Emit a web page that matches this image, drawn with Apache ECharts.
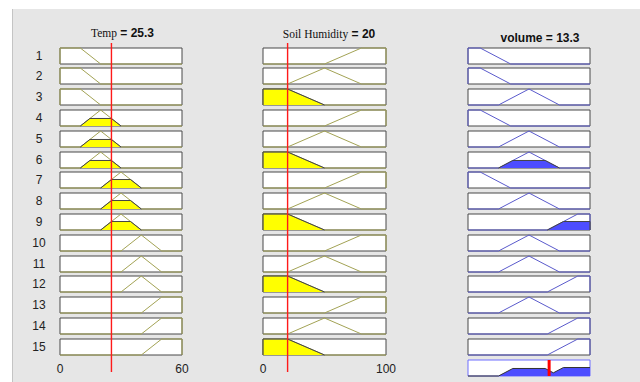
<!DOCTYPE html>
<html>
<head>
<meta charset="utf-8">
<script src="https://cdn.jsdelivr.net/npm/echarts@6/dist/echarts.min.js"></script>
<style>
html,body{margin:0;padding:0;background:#fff;width:640px;height:382px;overflow:hidden;}
#bg{position:absolute;left:12px;top:9px;width:628px;height:373px;background:#e6e6e6;border-left:1px solid #c4c4c4;}
#chart{position:absolute;left:0;top:0;width:640px;height:382px;}
</style>
</head>
<body>
<div id="bg"></div>
<div id="chart"></div>
<script>
// ---- data ----
const ruleNumbers = [1,2,3,4,5,6,7,8,9,10,11,12,13,14,15];
const tempRange = [0, 60];
const soilRange = [0, 100];
const volumeRange = [0, 20];
const tempInput = 25.3;
const soilInput = 20;
const volumeOutput = 13.3;
// membership functions as trapezoids [a,b,c,d]
const tempMFs = [[0,0,10,20],[10,20,20,30],[20,30,30,40],[30,40,40,50],[40,50,60,60]];
const soilMFs = [[0,0,20,50],[20,50,50,80],[50,80,100,100]];
const volumeMFs = [[0,0,2,7],[5,10,10,15],[13,18,20,20]];
// which MF each rule uses
const ruleTemp   = [0,0,0,1,1,1,2,2,2,3,3,3,4,4,4];
const ruleSoil   = [2,1,0,2,1,0,2,1,0,2,1,0,2,1,0];
const ruleVolume = [0,0,1,0,1,1,0,1,2,1,1,2,1,2,2];
// firing levels shown as filled areas
const tempFiring   = [0,0,0,0.47,0.47,0.47,0.53,0.53,0.53,0,0,0,0,0,0];
const soilFiring   = [0,0,1,0,0,1,0,0,1,0,0,1,0,0,1];
const volumeFiring = [0,0,0,0,0,0.47,0,0,0.53,0,0,0,0,0,0];
// aggregated output curve
const aggregateCurve = [[0,0],[5,0],[7.35,0.47],[12.65,0.47],[14,0.2],[15.65,0.53],[20,0.53]];
const titles = [
  {name:'Temp', value:'25.3'},
  {name:'Soil Humidity', value:'20'},
  {name:'volume', value:'13.3'}
];

// ---- layout / styles ----
const cols = [
  {left:60, width:122, range:tempRange, mfs:tempMFs, rule:ruleTemp, firing:tempFiring, line:'#a3a355', fill:'#ffff00'},
  {left:263, width:123, range:soilRange, mfs:soilMFs, rule:ruleSoil, firing:soilFiring, line:'#a3a355', fill:'#ffff00'},
  {left:468, width:122, range:volumeRange, mfs:volumeMFs, rule:ruleVolume, firing:volumeFiring, line:'#5a5acc', fill:'#4d4dff'}
];
const rowTop = i => Math.round(47.5 + i * 20.8);
const rowH = 16;

function mfPoints(p, r){
  return [[r[0],0],[p[0],0],[p[1],1],[p[2],1],[p[3],0],[r[1],0]];
}
function clipPoints(p, h){
  return [[p[0],0],[p[0]+(p[1]-p[0])*h,h],[p[3]-(p[3]-p[2])*h,h],[p[3],0]];
}

const grid=[], xAxis=[], yAxis=[], series=[];
let gi = 0;
function addGrid(g, xa, ya){
  grid.push(g); xa.gridIndex=gi; ya.gridIndex=gi; xAxis.push(xa); yAxis.push(ya); return gi++;
}
const hiddenY = () => ({type:'value', min:0, max:1, show:false});

cols.forEach((c, ci) => {
  ruleNumbers.forEach((n, i) => {
    const last = (i === ruleNumbers.length - 1) && ci < 2;
    const xa = {type:'value', min:c.range[0], max:c.range[1], show: last,
      interval: c.range[1]-c.range[0],
      axisLine:{show:false}, axisTick:{show:false}, splitLine:{show:false},
      axisLabel:{show:last, margin:8, color:'#222', fontSize:12, fontFamily:'Liberation Sans, Arial, sans-serif'}};
    const ya = ci === 0 ? {type:'value', min:0, max:1, interval:0.5, show:true,
      axisLine:{show:false}, axisTick:{show:false}, splitLine:{show:false},
      axisLabel:{show:true, margin:21, align:'center', color:'#222', fontSize:12, fontFamily:'Liberation Sans, Arial, sans-serif',
        formatter: v => (Math.abs(v-0.5) < 1e-6 ? String(n) : '')}} : hiddenY();
    const idx = addGrid({left:c.left, top:rowTop(i), width:c.width, height:rowH, show:true,
      backgroundColor:'#ffffff', borderColor:'#484848', borderWidth:1}, xa, ya);
    const p = c.mfs[c.rule[i]];
    series.push({type:'line', xAxisIndex:idx, yAxisIndex:idx, data:mfPoints(p, c.range),
      symbol:'none', clip:false, lineStyle:{color:c.line, width:1}, silent:true, animation:false});
    if (c.firing[i] > 0){
      series.push({type:'line', xAxisIndex:idx, yAxisIndex:idx, data:clipPoints(p, c.firing[i]),
        symbol:'none', clip:false, lineStyle:{color:'#444', width:1},
        areaStyle:{color:c.fill, opacity:1}, silent:true, animation:false});
    }
  });
});

// aggregate output row
const aggIdx = addGrid({left:cols[2].left, top:rowTop(15), width:cols[2].width, height:rowH, show:true,
  backgroundColor:'#ffffff', borderColor:'#6f6fff', borderWidth:1},
  {type:'value', min:volumeRange[0], max:volumeRange[1], show:false}, hiddenY());
series.push({type:'line', xAxisIndex:aggIdx, yAxisIndex:aggIdx, data:aggregateCurve, symbol:'none', clip:false,
  lineStyle:{color:'#333', width:1}, areaStyle:{color:'#4d4dff', opacity:1}, silent:true, animation:false});
series.push({type:'line', xAxisIndex:aggIdx, yAxisIndex:aggIdx, data:[[volumeOutput,0],[volumeOutput,1]], symbol:'none', clip:false,
  lineStyle:{color:'#ff0000', width:3}, silent:true, animation:false, z:6});

// input indicator lines spanning the whole column
[[0,tempInput],[1,soilInput]].forEach(([ci,v]) => {
  const c = cols[ci];
  const idx = addGrid({left:c.left, top:43, width:c.width, height:329, show:false},
    {type:'value', min:c.range[0], max:c.range[1], show:false}, hiddenY());
  series.push({type:'line', xAxisIndex:idx, yAxisIndex:idx, data:[[v,0],[v,1]], symbol:'none', clip:false,
    lineStyle:{color:'#ff1a1a', width:1.4}, silent:true, animation:false, z:6});
});

const titlePos = [[122.5,33],[329,34],[540,38]];
const graphic = titles.map((t, k) => {
  const serif = k < 2;
  return {type:'text', x:titlePos[k][0], y:titlePos[k][1], silent:true,
    style:{text: '{a|' + t.name + '} {b|= ' + t.value + '}', align:'center', verticalAlign:'middle',
      rich:{
        a:{fontFamily: serif ? 'Liberation Serif, Times New Roman, serif' : 'Liberation Sans, Arial, sans-serif',
           fontSize: serif ? 11.5 : 12, fontWeight: serif ? 'normal' : 'bold', fill:'#111'},
        b:{fontFamily:'Liberation Sans, Arial, sans-serif', fontSize:12, fontWeight:'bold', fill:'#111'}
      }}};
});

const chart = echarts.init(document.getElementById('chart'), null, {renderer:'svg'});
chart.setOption({animation:false, backgroundColor:'transparent', grid, xAxis, yAxis, series, graphic});
</script>
</body>
</html>
